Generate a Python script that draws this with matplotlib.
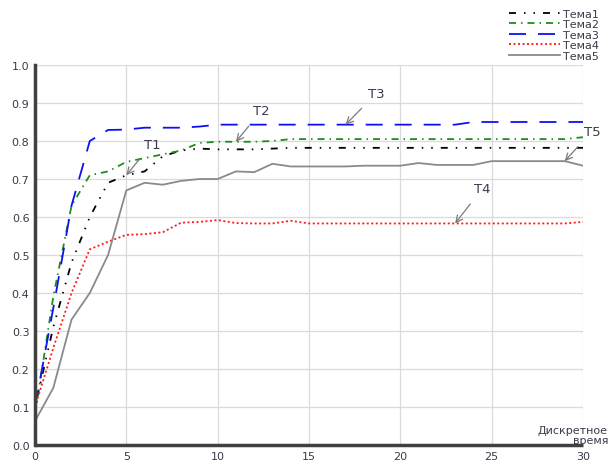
import matplotlib
matplotlib.use("Agg")
import matplotlib.pyplot as plt

# Discrete time steps
t = list(range(31))

tema1 = [0.10, 0.31, 0.48, 0.60, 0.69, 0.71, 0.72, 0.76, 0.775, 0.78, 0.778,
         0.778, 0.778, 0.78, 0.782, 0.782, 0.782, 0.782, 0.782, 0.782, 0.782,
         0.782, 0.782, 0.782, 0.782, 0.782, 0.782, 0.782, 0.782, 0.782, 0.782]
tema2 = [0.08, 0.39, 0.63, 0.71, 0.72, 0.745, 0.755, 0.765, 0.775, 0.795, 0.798,
         0.798, 0.798, 0.80, 0.805, 0.805, 0.805, 0.805, 0.805, 0.805, 0.805,
         0.805, 0.805, 0.805, 0.805, 0.805, 0.805, 0.805, 0.805, 0.805, 0.81]
tema3 = [0.10, 0.36, 0.63, 0.80, 0.829, 0.83, 0.835, 0.835, 0.835, 0.838, 0.843,
         0.843, 0.843, 0.843, 0.843, 0.843, 0.843, 0.843, 0.843, 0.843, 0.843,
         0.843, 0.843, 0.843, 0.85, 0.85, 0.85, 0.85, 0.85, 0.85, 0.85]
tema4 = [0.10, 0.255, 0.40, 0.515, 0.535, 0.553, 0.555, 0.56, 0.585, 0.587, 0.592,
         0.584, 0.583, 0.583, 0.59, 0.583, 0.583, 0.583, 0.583, 0.583, 0.583,
         0.583, 0.583, 0.583, 0.583, 0.583, 0.583, 0.583, 0.583, 0.583, 0.587]
tema5 = [0.063, 0.15, 0.33, 0.40, 0.50, 0.67, 0.69, 0.685, 0.695, 0.70, 0.70,
         0.72, 0.718, 0.74, 0.733, 0.733, 0.733, 0.733, 0.735, 0.735, 0.735,
         0.742, 0.737, 0.737, 0.737, 0.747, 0.747, 0.747, 0.747, 0.747, 0.735]

series_names = ["Тема1", "Тема2", "Тема3", "Тема4", "Тема5"]
x_ticks = [0, 5, 10, 15, 20, 25, 30]
y_ticks = [0.0, 0.1, 0.2, 0.3, 0.4, 0.5, 0.6, 0.7, 0.8, 0.9, 1.0]

# Callout labels: (text, series index, x of the pointed sample, text position)
callouts = [("T1", 0, 5, (6.4, 0.792)),
            ("T2", 1, 11, (12.4, 0.88)),
            ("T3", 2, 17, (18.7, 0.926)),
            ("T4", 3, 23, (24.5, 0.676)),
            ("T5", 4, 29, (30.5, 0.826))]

plt.rcParams["font.family"] = ["DejaVu Sans"]
text_col = "#3a3a4a"

fig = plt.figure(figsize=(6.09, 4.64), dpi=100)
ax = fig.add_axes([35 / 609, 18 / 464, 548 / 609, 380 / 464])

lw = 1.3
px = 100 / 72.0  # pixels per point


def dash(*pix):
    # dash pattern given in pixels, converted to linewidth units
    return (0, tuple(p / px / lw for p in pix))


styles = [
    dict(color="black", linestyle=dash(7, 8, 1.5, 8, 1.5, 8)),
    dict(color="#1e8c1e", linestyle=dash(7, 5, 1.5, 5)),
    dict(color="#1010f0", linestyle=dash(17, 12)),
    dict(color="#ff1a1a", linestyle=dash(2, 2.5)),
    dict(color="#8a8a8a", linestyle="-"),
]
data = [tema1, tema2, tema3, tema4, tema5]

lines = []
for name, ys, st in zip(series_names, data, styles):
    ln, = ax.plot(t, ys, lw=lw, label=name, **st)
    lines.append(ln)

ax.set_xlim(0, 30)
ax.set_ylim(0, 1.0)
ax.set_xticks(x_ticks)
ax.set_xticklabels([str(v) for v in x_ticks])
ax.set_yticks(y_ticks)
ax.set_yticklabels([f"{v:.1f}" for v in y_ticks])
ax.grid(True, color="#dadada", lw=0.9)
ax.set_axisbelow(True)
ax.tick_params(length=0, labelsize=8, colors=text_col, pad=4)

for s in ("top", "right"):
    ax.spines[s].set_visible(False)
for s in ("left", "bottom"):
    ax.spines[s].set_color("#404040")
    ax.spines[s].set_linewidth(2.5)
ax.spines["bottom"].set_capstyle("butt")

for label, si, xi, (tx, ty) in callouts:
    ax.annotate(label, xy=(t[xi], data[si][xi]), xytext=(tx, ty),
                textcoords="data", ha="center", va="center",
                fontsize=9.5, color=text_col, annotation_clip=False,
                arrowprops=dict(arrowstyle="->,head_length=0.5,head_width=0.25",
                                color="#7a7a7a", lw=0.9,
                                shrinkA=6, shrinkB=0))

fig.text(608 / 609, 1 - 431 / 464, "Дискретное", ha="right", va="center",
         fontsize=8, color=text_col)
fig.text(608 / 609, 1 - 441 / 464, "время", ha="right", va="center",
         fontsize=8, color=text_col)

leg = fig.legend(lines, series_names, loc="upper right",
                 bbox_to_anchor=(606 / 609, 1 - 3 / 464), frameon=False,
                 fontsize=8, handlelength=4.6, handletextpad=0.3,
                 labelspacing=0.05, borderpad=0.1, labelcolor=text_col)

fig.savefig("out.png", dpi=100)
